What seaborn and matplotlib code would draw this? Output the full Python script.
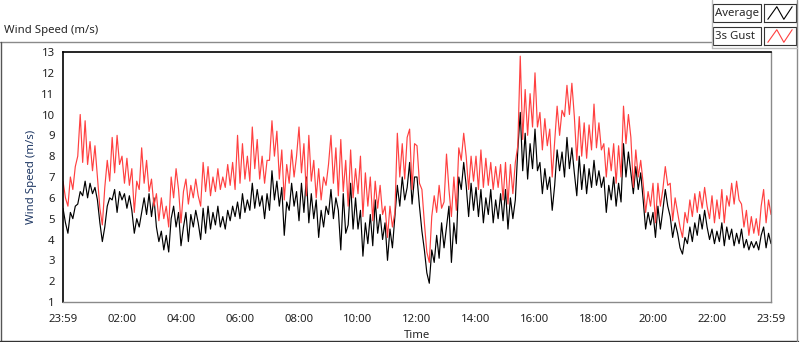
import numpy as np
import matplotlib
matplotlib.use('Agg')
import matplotlib.pyplot as plt
import seaborn as sns
from matplotlib.patches import Rectangle
from matplotlib.lines import Line2D

# wind data, one reading every 5 minutes from 23:59 to 23:59 next day
minutes = np.arange(0, 1441, 5)

# one row per hour (12 readings)
average = [
    5.5, 4.8, 4.3, 5.3, 5.0, 5.6, 5.7, 6.3, 6.1, 6.8, 6.0, 6.7,
    6.2, 6.5, 5.9, 4.8, 3.9, 4.6, 5.6, 6.0, 5.9, 6.4, 5.3, 6.3,
    5.9, 6.2, 5.5, 6.1, 5.4, 4.3, 5.0, 4.6, 5.3, 6.0, 5.2, 6.2,
    5.1, 6.0, 4.6, 3.9, 4.4, 3.5, 4.2, 3.4, 5.0, 5.6, 4.6, 5.3,
    3.7, 4.6, 5.3, 3.9, 5.2, 4.6, 5.4, 4.8, 4.0, 5.5, 4.3, 5.6,
    4.5, 5.3, 4.7, 5.6, 4.6, 5.1, 4.5, 5.4, 4.9, 5.6, 5.1, 5.8,
    5.0, 6.2, 5.3, 5.9, 5.4, 6.7, 5.5, 6.4, 5.6, 6.1, 5.0, 6.2,
    5.4, 7.3, 5.9, 6.8, 5.6, 6.5, 4.2, 5.8, 5.4, 6.7, 5.6, 6.3,
    4.9, 6.7, 5.3, 7.0, 4.8, 6.2, 5.0, 5.9, 4.1, 5.4, 4.6, 5.6,
    5.2, 6.4, 5.0, 6.0, 5.4, 3.5, 6.2, 4.3, 4.7, 6.7, 4.5, 6.0,
    4.5, 5.4, 3.2, 4.8, 3.8, 5.2, 3.7, 5.9, 4.3, 5.2, 4.0, 4.8,
    3.0, 4.5, 3.6, 5.1, 6.6, 5.6, 7.0, 5.9, 6.5, 7.7, 5.7, 7.0,
    7.0, 5.6, 4.4, 3.5, 2.4, 1.9, 3.5, 2.9, 4.2, 3.1, 4.8, 3.6,
    4.6, 5.6, 2.9, 4.8, 3.8, 7.0, 6.4, 7.7, 6.6, 5.1, 6.7, 5.4,
    6.5, 5.1, 6.4, 4.8, 6.0, 5.2, 6.4, 4.8, 5.9, 5.0, 6.2, 4.9,
    6.4, 4.5, 6.0, 5.0, 5.9, 8.3, 10.1, 7.3, 9.1, 6.9, 8.6, 7.4,
    9.3, 7.3, 7.7, 6.2, 7.4, 6.4, 7.0, 5.4, 6.6, 8.3, 7.3, 8.2,
    7.0, 8.9, 7.4, 8.4, 7.2, 6.1, 8.0, 6.4, 7.6, 6.2, 7.4, 6.5,
    7.8, 6.6, 7.3, 6.5, 7.0, 5.3, 6.6, 5.9, 7.0, 5.6, 6.7, 5.8,
    8.6, 7.0, 8.2, 7.2, 6.2, 7.5, 6.4, 7.2, 5.9, 4.5, 5.3, 4.7,
    5.3, 4.1, 5.6, 4.5, 5.4, 6.4, 5.6, 5.1, 4.1, 4.8, 4.3, 3.6,
    3.3, 4.1, 3.8, 4.6, 3.9, 4.8, 4.2, 5.2, 4.5, 5.4, 4.6, 4.0,
    4.5, 3.8, 4.4, 3.9, 4.8, 3.7, 4.6, 4.0, 4.5, 3.7, 4.3, 3.8,
    4.5, 3.6, 4.0, 3.5, 3.9, 3.6, 3.9, 3.5, 4.2, 4.6, 3.6, 4.3,
    3.8,
]

gust = [
    6.8, 6.0, 5.6, 7.0, 6.4, 7.5, 8.0, 10.0, 7.7, 9.7, 7.6, 8.7,
    7.3, 8.5, 7.0, 5.5, 4.7, 6.5, 7.8, 6.8, 8.9, 7.2, 9.0, 7.6,
    8.0, 6.7, 7.9, 6.6, 7.4, 5.3, 6.8, 6.4, 8.4, 6.7, 7.8, 6.3,
    6.9, 5.6, 6.2, 4.9, 6.0, 5.0, 5.6, 4.6, 7.0, 6.0, 7.4, 6.4,
    4.8, 6.3, 6.9, 5.7, 6.6, 6.0, 6.9, 6.1, 5.6, 7.7, 6.3, 7.5,
    6.1, 7.0, 6.3, 7.4, 6.4, 7.0, 6.5, 7.6, 6.6, 7.7, 6.4, 9.0,
    6.7, 8.6, 6.9, 8.0, 6.8, 9.4, 7.4, 8.8, 6.9, 8.0, 6.7, 7.8,
    7.8, 9.7, 8.0, 9.2, 6.9, 8.3, 5.9, 7.6, 6.7, 8.3, 7.0, 8.0,
    9.4, 7.2, 8.6, 6.1, 9.0, 6.8, 7.8, 6.0, 7.4, 5.9, 7.0, 6.6,
    7.6, 9.0, 6.7, 8.4, 6.1, 8.8, 6.3, 7.8, 5.6, 8.3, 6.0, 7.4,
    6.2, 8.0, 5.1, 7.2, 5.6, 7.0, 4.9, 6.8, 5.5, 6.6, 5.2, 5.6,
    4.1, 5.6, 4.6, 5.3, 9.1, 7.0, 8.6, 6.9, 8.9, 9.3, 6.4, 8.6,
    8.5, 6.7, 6.4, 4.8, 3.4, 2.9, 5.1, 6.1, 5.3, 6.6, 5.5, 5.8,
    8.1, 6.4, 5.1, 7.0, 5.4, 8.4, 7.8, 9.1, 8.0, 6.4, 8.0, 6.8,
    8.0, 6.4, 8.3, 6.5, 7.9, 6.6, 7.7, 6.4, 7.5, 6.5, 7.6, 5.9,
    7.7, 5.7, 7.6, 6.2, 7.7, 8.5, 12.8, 8.8, 11.2, 9.0, 11.0, 9.4,
    12.0, 9.4, 10.1, 8.3, 9.8, 8.5, 9.3, 7.0, 8.7, 10.4, 9.0, 10.2,
    9.9, 11.4, 10.0, 11.5, 9.9, 7.8, 9.9, 8.0, 9.6, 7.9, 9.5, 8.3,
    10.5, 8.4, 9.6, 8.3, 8.6, 7.0, 8.4, 7.3, 8.6, 6.7, 8.5, 7.0,
    10.4, 8.6, 10.0, 8.9, 6.5, 8.3, 7.0, 7.8, 6.7, 5.3, 6.3, 5.6,
    6.7, 4.8, 6.7, 5.6, 6.4, 7.5, 6.6, 6.7, 4.9, 6.0, 5.3, 4.6,
    4.1, 5.3, 4.8, 5.9, 5.1, 6.2, 5.3, 6.3, 5.5, 6.5, 5.6, 5.0,
    6.1, 4.8, 5.9, 5.0, 6.4, 4.8, 6.1, 5.6, 6.7, 5.7, 6.8, 5.9,
    5.7, 4.6, 5.4, 4.2, 5.1, 4.3, 5.0, 4.2, 5.6, 6.4, 4.8, 5.9,
    5.2,
]

tick_labels = ['23:59', '02:00', '04:00', '06:00', '08:00', '10:00', '12:00',
               '14:00', '16:00', '18:00', '20:00', '22:00', '23:59']

sns.set_style('white')
plt.rcParams['font.family'] = ['Noto Sans', 'DejaVu Sans']
plt.rcParams['font.size'] = 8.2

W, H = 800, 342
fig = plt.figure(figsize=(W / 100, H / 100), dpi=100)
ax = fig.add_axes([63 / W, 40 / H, 708 / W, 250 / H])

sns.lineplot(x=minutes, y=average, color='black', lw=0.85, ax=ax)
sns.lineplot(x=minutes, y=gust, color='#ff4040', lw=0.85, ax=ax)

ax.set_xlim(0, 1440)
ax.set_ylim(1, 13)
ax.set_xticks(np.arange(0, 1441, 120))
ax.set_xticklabels(tick_labels)
ax.set_xticks(np.arange(0, 1441, 20), minor=True)
ax.set_yticks(range(1, 14))
ax.tick_params(axis='x', which='major', length=5, width=0.8, pad=4, colors='#222222')
ax.tick_params(axis='x', which='minor', length=3, width=0.8, color='#222222')
ax.tick_params(axis='y', length=4, width=0.8, pad=2, colors='#222222')
ax.set_xlabel('Time', labelpad=3)
ax.set_ylabel('Wind Speed (m/s)', color='#1f3864', labelpad=3)

for side in ['top', 'left']:
    ax.spines[side].set_color('black')
    ax.spines[side].set_linewidth(1.2)
for side in ['bottom', 'right']:
    ax.spines[side].set_color('#8a8a8a')
    ax.spines[side].set_linewidth(1.0)

# panel frame
def fline(x0, y0, x1, y1, c='#8a8a8a', lw=1.0):
    fig.add_artist(Line2D([x0 / W, x1 / W], [1 - y0 / H, 1 - y1 / H], color=c, lw=lw))

fline(0, 42, 712, 42)
fline(1, 42, 1, 341, c='#555555')
fline(0, 341, 798, 341, c='#333333')
fline(797, 0, 797, 341)
fline(712, 0, 712, 48, c='#bbbbbb')
fline(712, 48, 797, 48, c='#bbbbbb')

fig.text(4 / W, 1 - 31 / H, 'Wind Speed (m/s)', ha='left', va='center', fontsize=8.2)

# legend boxes
for row, (name, col) in enumerate([('Average', 'black'), ('3s Gust', '#ff4040')]):
    y_top = 4 + row * 23
    fig.add_artist(Rectangle((713 / W, 1 - (y_top + 18) / H), 48 / W, 18 / H,
                             fill=False, ec='#333333', lw=0.8))
    fig.text(715 / W, 1 - (y_top + 9.5) / H, name, ha='left', va='center', fontsize=8.2)
    lax = fig.add_axes([764 / W, 1 - (y_top + 18) / H, 32 / W, 18 / H])
    lax.plot([0.12, 0.4, 0.62, 0.88], [0.15, 0.85, 0.15, 0.85], color=col, lw=0.8)
    lax.set_xlim(0, 1)
    lax.set_ylim(0, 1)
    lax.set_xticks([])
    lax.set_yticks([])
    for s in lax.spines.values():
        s.set_color('#333333')
        s.set_linewidth(0.8)

fig.savefig('out.png', dpi=100)
